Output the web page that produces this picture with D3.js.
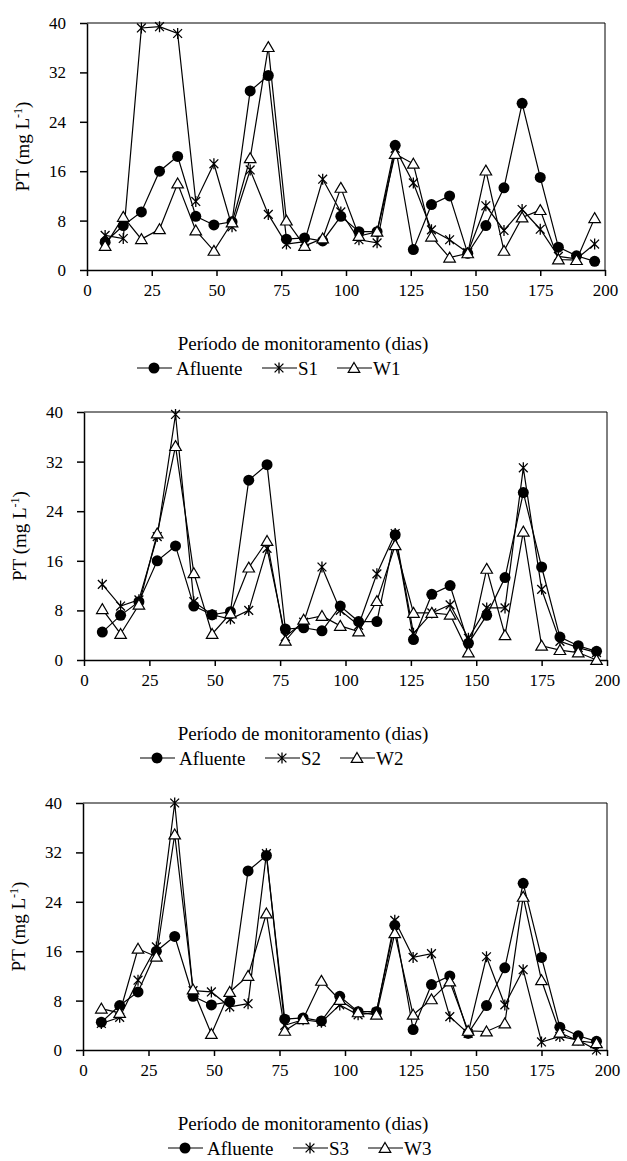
<!DOCTYPE html>
<html lang="pt">
<head>
  <meta charset="UTF-8">
  <title>PT - período de monitoramento</title>
  <style>
    body{ margin: 0; background: #fff; }
    svg, svg text, .tick text{ font-family: "Liberation Serif", "Times New Roman", Times, serif !important; fill: #000; }
    .tick text{ font-size: 17px; }
    .domain, .tick line{ stroke: #000; stroke-width: 1.5px; }
    .serie{ fill: none; stroke: #000; stroke-width: 1.2px; }
    .box{ fill: none; stroke: #000; stroke-width: 1px; }
  </style>
</head>
<body>
  <script src="https://cdn.jsdelivr.net/npm/d3@7"></script>
  <script>
    // dias de coleta
    const days = [7, 14, 21, 28, 35, 42, 49, 56, 63, 70, 77, 84, 91, 98, 105, 112, 119, 126, 133, 140, 147, 154, 161, 168, 175, 182, 189, 196];
    const xTicks = [0, 25, 50, 75, 100, 125, 150, 175, 200];
    const yTicks = [0, 8, 16, 24, 32, 40];

    const afluente = [4.5, 7.2, 9.4, 16, 18.4, 8.7, 7.3, 7.8, 29, 31.5, 5, 5.2, 4.7, 8.7, 6.2, 6.2, 20.2, 3.3, 10.6, 12, 2.7, 7.2, 13.3, 27, 15, 3.7, 2.3, 1.4];
    const s1 = [5.6, 5.1, 39.2, 39.4, 38.3, 11.1, 17.2, 7, 16.2, 9, 4.2, 4.6, 14.7, 9.4, 4.9, 4.4, 19.7, 14.1, 6.5, 4.9, 2.8, 10.4, 6.4, 9.8, 6.6, 2.2, 1.8, 4.2];
    const w1 = [3.9, 8.6, 5, 6.6, 14, 6.4, 3.1, 7.7, 18.1, 36.1, 8, 3.9, 5.1, 13.3, 5.5, 6.2, 18.8, 17.2, 5.4, 2, 2.7, 16.1, 3.1, 8.5, 9.7, 1.7, 1.6, 8.4];
    const s2 = [12.2, 8.7, 9.7, 19.9, 39.6, 9.4, 7.3, 6.6, 8, 18, 3.8, 6.1, 15, 8, 5.6, 13.9, 20.4, 4.3, 7.6, 8.9, 3.5, 8.4, 8.4, 31, 11.4, 3, 2, 1.2];
    const w2 = [8.2, 4.2, 8.9, 20.4, 34.5, 14, 4.2, 7.5, 14.9, 19.2, 3.1, 6.5, 7.1, 5.5, 4.6, 9.5, 18.5, 7.6, 7.6, 7.3, 1.2, 14.7, 4, 20.7, 2.3, 1.6, 1.2, 0];
    const s3 = [4.3, 5.3, 11.3, 16.7, 40, 9.6, 9.4, 7, 7.5, 31.8, 4, 4.9, 4.5, 7.3, 5.7, 6.1, 21, 15, 15.6, 5.4, 2.7, 15.1, 7.3, 13, 1.3, 2.2, 1.6, 0];
    const w3 = [6.7, 6, 16.4, 15.1, 34.9, 9.8, 2.6, 9.4, 12, 22.1, 3.1, 5, 11.2, 8.1, 6.1, 5.7, 18.9, 5.7, 8.2, 11.1, 3.1, 3, 4.3, 24.8, 11.3, 2.8, 1.5, 1.1];

    const panels = [
      { s: s1, w: w1, sName: 'S1', wName: 'W1', left: 87, right: 605, top: 23, bottom: 270, legendX: 137 },
      { s: s2, w: w2, sName: 'S2', wName: 'W2', left: 84, right: 607, top: 412, bottom: 660, legendX: 140 },
      { s: s3, w: w3, sName: 'S3', wName: 'W3', left: 83, right: 607, top: 803, bottom: 1050, legendX: 168 }
    ];
    const serif = '"Liberation Serif", "Times New Roman", Times, serif';

    const svg = d3.select('body').append('svg')
      .attr('width', 627).attr('height', 1161)
      .attr('font-family', serif);

    // marcadores
    function drawMarker(g, type, cx, cy){
      if(type === 'circle'){
        g.append('circle').attr('cx', cx).attr('cy', cy).attr('r', 5.5).attr('fill', '#000');
      } else if(type === 'star'){
        const r = 5.5, a = r * 0.8;
        g.append('path')
          .attr('d', `M${cx},${cy - r}L${cx},${cy + r}M${cx - a},${cy - a}L${cx + a},${cy + a}M${cx - a},${cy + a}L${cx + a},${cy - a}`)
          .attr('stroke', '#000').attr('stroke-width', 1.3).attr('fill', 'none');
      } else {
        const h = 5.5;
        g.append('path')
          .attr('d', `M${cx},${cy - h}L${cx + h * 1.05},${cy + h * 0.8}L${cx - h * 1.05},${cy + h * 0.8}Z`)
          .attr('stroke', '#000').attr('stroke-width', 1.2).attr('fill', '#fff');
      }
    }

    panels.forEach(function(p){
      const x = d3.scaleLinear().domain([0, 200]).range([p.left, p.right]);
      const y = d3.scaleLinear().domain([0, 40]).range([p.bottom, p.top]);
      const g = svg.append('g');

      // borda superior e direita
      g.append('path').attr('class', 'box')
        .attr('d', `M${p.left},${p.top}H${p.right}V${p.bottom}`);

      g.append('g')
        .attr('transform', `translate(0,${p.bottom})`)
        .call(d3.axisBottom(x).tickValues(xTicks).tickSize(6).tickPadding(8).tickSizeOuter(0))
        .attr('font-family', serif).attr('font-size', 17)
        .call(a => a.selectAll('text').attr('dy', '0.71em'));

      g.append('g')
        .attr('transform', `translate(${p.left},0)`)
        .call(d3.axisLeft(y).tickValues(yTicks).tickSize(7).tickPadding(14).tickSizeOuter(0))
        .attr('font-family', serif).attr('font-size', 17);

      const series = [
        { values: afluente, type: 'circle' },
        { values: p.s, type: 'star' },
        { values: p.w, type: 'tri' }
      ];
      const line = d3.line().x((d, i) => x(days[i])).y(d => y(d));

      series.forEach(function(s){
        g.append('path').datum(s.values).attr('class', 'serie').attr('d', line);
      });
      series.forEach(function(s){
        s.values.forEach(function(v, i){ drawMarker(g, s.type, x(days[i]), y(v)); });
      });

      // eixo y
      const yl = g.append('text')
        .attr('transform', `translate(${p.left - 58},${(p.top + p.bottom) / 2}) rotate(-90)`)
        .attr('text-anchor', 'middle')
        .attr('font-size', 19);
      yl.append('tspan').text('PT (mg L');
      yl.append('tspan').text('-1').attr('font-size', 12).attr('dy', -7);
      yl.append('tspan').text(')').attr('dy', 7);

      // título do eixo x
      g.append('text')
        .attr('x', 303).attr('y', p.bottom + 73)
        .attr('dy', '0.35em')
        .attr('text-anchor', 'middle')
        .attr('font-size', 19)
        .text('Período de monitoramento (dias)');

      // legenda
      const ly = p.bottom + 98;
      const lg = g.append('g');
      const items = [
        { type: 'circle', label: 'Afluente', x0: 0, text: 39 },
        { type: 'star', label: p.sName, x0: 125, text: 161 },
        { type: 'tri', label: p.wName, x0: 200, text: 236 }
      ];
      items.forEach(function(it){
        const x0 = p.legendX + it.x0;
        lg.append('line').attr('x1', x0).attr('x2', x0 + 35).attr('y1', ly).attr('y2', ly)
          .attr('stroke', '#000').attr('stroke-width', 1.2);
        drawMarker(lg, it.type, x0 + 17, ly);
        lg.append('text').attr('x', p.legendX + it.text).attr('y', ly).attr('dy', '0.35em')
          .attr('font-size', 19).text(it.label);
      });
    });
  </script>
</body>
</html>
